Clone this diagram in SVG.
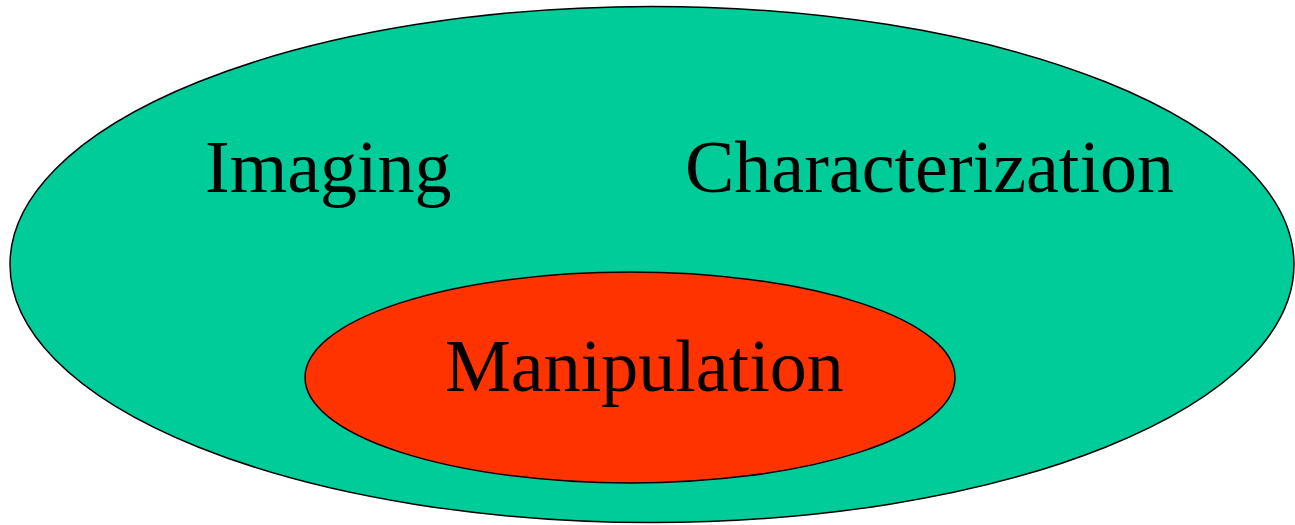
<svg xmlns="http://www.w3.org/2000/svg" width="1295" height="525" viewBox="0 0 1295 525">
<style>
.lbl{font-family:"Liberation Serif","Times New Roman",serif;font-size:74px;fill:#000}
.el{stroke:#000;stroke-width:1.5}
</style>
<rect width="1295" height="525" fill="#fff"/>
<g id="outer">
<ellipse class="el" cx="652" cy="264.5" rx="642" ry="258" fill="#00CC99"/>
<text class="lbl" x="205" y="192">Imaging</text>
<text class="lbl" x="685" y="192">Characterization</text>
</g>
<g id="inner">
<ellipse class="el" cx="630" cy="377.5" rx="325" ry="105.5" fill="#FF3300"/>
<text class="lbl" x="445" y="391">Manipulation</text>
</g>
<g id="connectors"/>
</svg>
